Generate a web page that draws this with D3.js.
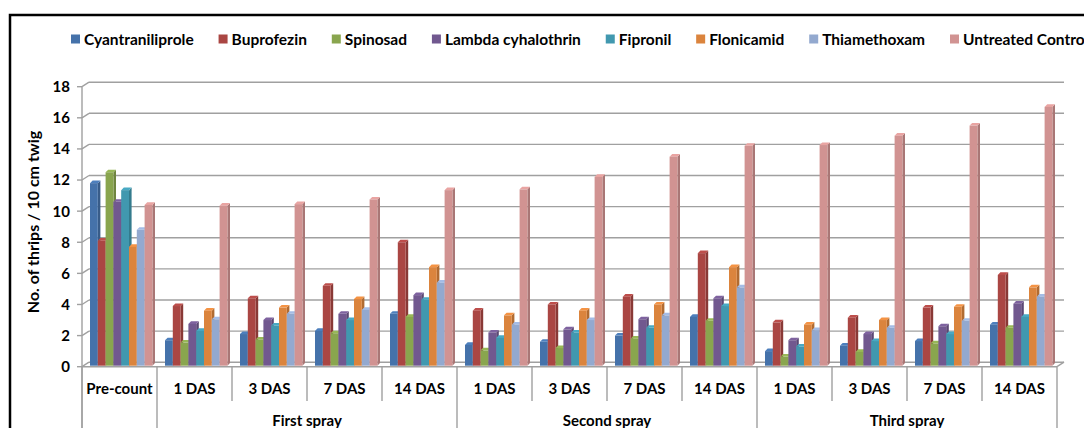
<!DOCTYPE html>
<html><head><meta charset="utf-8">
<script src="https://cdn.jsdelivr.net/npm/d3@7"></script>
<style>body{margin:0;background:#fff}svg{display:block}text{font-family:Lato,"Open Sans",sans-serif;font-weight:bold;fill:#000}</style>
</head><body><svg id="c" width="1084" height="428"></svg>
<script>
const categories = ["Pre-count","1 DAS","3 DAS","7 DAS","14 DAS","1 DAS","3 DAS","7 DAS","14 DAS","1 DAS","3 DAS","7 DAS","14 DAS"];
const groups = [{name:"",from:0,to:1},{name:"First spray",from:1,to:5},{name:"Second spray",from:5,to:9},{name:"Third spray",from:9,to:13}];
const seriesNames = ["Cyantraniliprole","Buprofezin","Spinosad","Lambda cyhalothrin","Fipronil","Flonicamid","Thiamethoxam","Untreated Control"];
const cyantraniliprole = [11.8,1.7,2.1,2.3,3.4,1.4,1.6,2.0,3.2,1.0,1.35,1.65,2.7];
const buprofezin = [8.1,3.9,4.4,5.2,8.0,3.6,4.0,4.5,7.3,2.85,3.15,3.8,5.9];
const spinosad = [12.5,1.55,1.75,2.15,3.2,1.05,1.2,1.8,2.95,0.65,0.95,1.5,2.5];
const lambdaCyhalothrin = [10.6,2.75,3.0,3.4,4.6,2.2,2.4,3.05,4.4,1.7,2.1,2.6,4.05];
const fipronil = [11.35,2.3,2.65,3.0,4.3,1.85,2.2,2.5,3.9,1.3,1.65,2.1,3.2];
const flonicamid = [7.7,3.6,3.8,4.35,6.4,3.3,3.6,4.0,6.4,2.7,3.0,3.85,5.1];
const thiamethoxam = [8.8,3.05,3.4,3.65,5.4,2.7,3.0,3.3,5.1,2.35,2.5,2.95,4.5];
const untreatedControl = [10.4,10.35,10.45,10.75,11.35,11.4,12.2,13.5,14.2,14.25,14.85,15.5,16.7];
const yTicks = [0,2,4,6,8,10,12,14,16,18];
const colors = ["#4572AA","#AA4643","#89A54E","#71588F","#4198AF","#DB843D","#93A9CF","#D19392"];
const seriesValues = [cyantraniliprole,buprofezin,spinosad,lambdaCyhalothrin,fipronil,flonicamid,thiamethoxam,untreatedControl];

const svg = d3.select("#c");
svg.append("rect").attr("width",1084).attr("height",428).attr("fill","#fff");
svg.append("rect").attr("x",10).attr("y",15).attr("width",1100).attr("height",440)
  .attr("fill","none").attr("stroke","#000").attr("stroke-width",2.5);

const X0 = 82, X1 = 1057, DX = 7, DY = -4.5;
const y = d3.scaleLinear().domain([0,18]).range([366.7,86.7]);
const x = d3.scaleBand().domain(d3.range(categories.length)).range([X0,X1]).paddingInner(0).paddingOuter(0);
const xs = d3.scaleBand().domain(d3.range(seriesNames.length)).range([8, 8+62.4]);

const grid = svg.append("g").attr("stroke","#a0a0a0").attr("stroke-width",1.4).attr("fill","none");
yTicks.forEach(t=>{
  grid.append("line").attr("x1",X0+DX).attr("x2",X1+DX).attr("y1",y(t)+DY).attr("y2",y(t)+DY);
  grid.append("line").attr("x1",X0).attr("x2",X0+DX).attr("y1",y(t)).attr("y2",y(t)+DY);
  grid.append("line").attr("x1",X0-5).attr("x2",X0).attr("y1",y(t)).attr("y2",y(t));
});
grid.append("line").attr("x1",X0).attr("x2",X0).attr("y1",y(18)).attr("y2",428);
grid.append("line").attr("x1",X0).attr("x2",X1).attr("y1",y(0)).attr("y2",y(0));
grid.append("line").attr("x1",X1).attr("x2",X1+DX).attr("y1",y(0)).attr("y2",y(0)+DY);

const groupEdges = new Set(groups.flatMap(g=>[g.from,g.to]));
d3.range(categories.length+1).forEach(i=>{
  const xx = i<categories.length ? x(i) : X1;
  grid.append("line").attr("x1",xx).attr("x2",xx).attr("y1",y(0)).attr("y2",groupEdges.has(i)?428:401);
});

svg.append("g").selectAll("text").data(yTicks).join("text")
  .attr("x",70).attr("y",d=>y(d)).attr("dy","0.36em").attr("text-anchor","end")
  .attr("font-size",15).text(d=>d);
svg.append("text").attr("transform","translate(33,222) rotate(-90)").attr("text-anchor","middle")
  .attr("dy","0.36em").attr("font-size",16).text("No. of thrips / 10 cm twig");

svg.append("g").selectAll("text").data(categories).join("text")
  .attr("x",(d,i)=>x(i)+x.bandwidth()/2).attr("y",389).attr("dy","0.36em")
  .attr("text-anchor","middle").attr("font-size",15).text(d=>d);
svg.append("g").selectAll("text").data(groups.filter(g=>g.name)).join("text")
  .attr("x",g=>(x(g.from)+(g.to<categories.length?x(g.to):X1))/2).attr("y",421).attr("dy","0.36em")
  .attr("text-anchor","middle").attr("font-size",15).text(g=>g.name);

const bdx = 2.6, bdy = -2.6;
const bars = svg.append("g");
seriesValues.forEach((vals,s)=>{
  const c = d3.color(colors[s]);
  vals.forEach((v,i)=>{
    const bx = x(i)+xs(s), bw = xs.bandwidth(), top = y(v), bot = y(0)-1;
    bars.append("path").attr("fill",c.darker(0.6))
      .attr("d",`M${bx+bw},${top}L${bx+bw+bdx},${top+bdy}L${bx+bw+bdx},${bot+bdy}L${bx+bw},${bot}Z`);
    bars.append("path").attr("fill",c.brighter(0.3))
      .attr("d",`M${bx},${top}L${bx+bdx},${top+bdy}L${bx+bw+bdx},${top+bdy}L${bx+bw},${top}Z`);
    bars.append("rect").attr("x",bx).attr("y",top).attr("width",bw).attr("height",bot-top).attr("fill",c);
  });
});

const leg = svg.append("g");
const items = seriesNames.map((n,i)=>{
  const g = leg.append("g");
  g.append("rect").attr("width",9).attr("height",9).attr("y",34.5).attr("fill",colors[i]);
  const t = g.append("text").attr("x",13).attr("y",39).attr("dy","0.36em").attr("font-size",15.5).text(n);
  return {g, w: t.node().getComputedTextLength()};
});
const startX = 71, lastX = 950;
const used = items.slice(0,-1).reduce((a,it)=>a+13+it.w,0);
const gap = (lastX-startX-used)/(items.length-1);
let cx = startX;
items.forEach(it=>{ it.g.attr("transform",`translate(${cx},0)`); cx += 13+it.w+gap; });
</script></body></html>
